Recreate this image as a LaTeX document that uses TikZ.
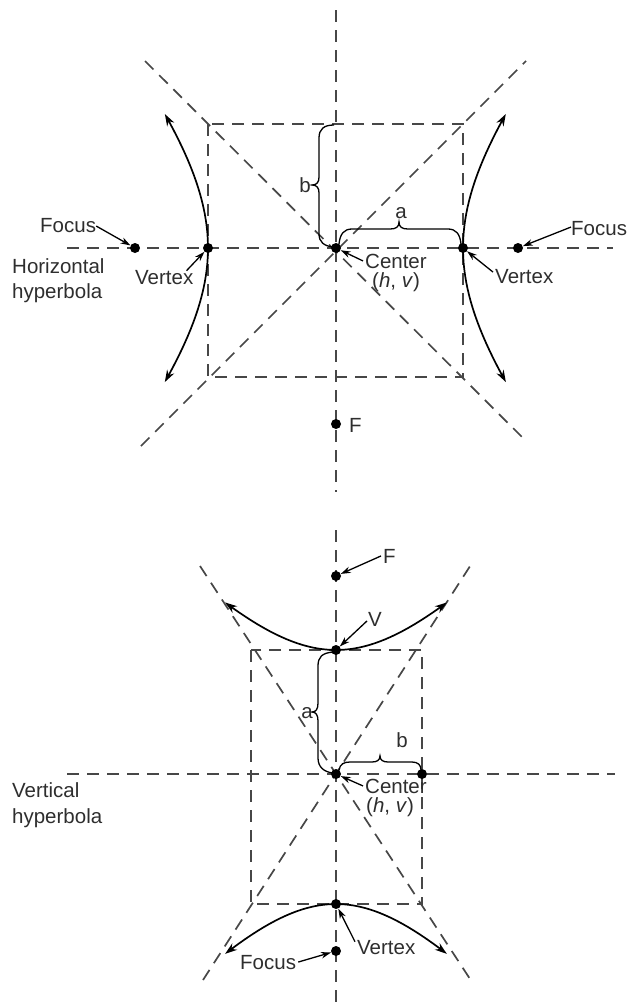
\documentclass[tikz,border=0pt]{standalone}
\usepackage{fontspec}
\setmainfont{Liberation Sans}
\usetikzlibrary{arrows.meta}
\begin{document}
\begin{tikzpicture}[x=1pt,y=-1pt,
  axis/.style={draw=black!72, line width=1.7pt, dash pattern=on 12pt off 8pt},
  curve/.style={draw=black, line width=1.7pt, {Stealth[length=12pt,width=8pt]}-{Stealth[length=12pt,width=8pt]}},
  dot/.style={circle, fill=black, inner sep=0pt, minimum size=10pt},
  lbl/.style={font=\fontsize{20.5}{24}\selectfont, text=black!82, inner sep=0pt},
  ptr/.style={draw=black, line width=1.3pt, -{Stealth[length=10pt,width=6.5pt]}},
  brace/.style={draw=black, line width=1.3pt}]
\useasboundingbox (0,0) rectangle (628,1007);

% ---------- Horizontal hyperbola ----------
\draw[axis] (336,10) -- (336,492);
\draw[axis] (67,248) -- (613,248);
\draw[axis] (208,124) rectangle (463,377);
\draw[axis] (145,61) -- (526,441);
\draw[axis] (141,446) -- (526,61);

\draw[curve] plot[domain=-0.8:0.8, samples=40, variable=\t] ({336+127*cosh(\t)}, {248-151*sinh(\t)});
\draw[curve] plot[domain=-0.8:0.8, samples=40, variable=\t] ({336-128*cosh(\t)}, {248-151*sinh(\t)});

\node[dot] (F1L) at (135,248) {};
\node[dot] (V1L) at (208,248) {};
\node[dot] (Cn1) at (336,248) {};
\node[dot] (V1R) at (463,248) {};
\node[dot] (F1R) at (518,248) {};
\node[dot] (F1) at (336,424) {};

% braces
\draw[brace] (334,125) .. controls (324,125) and (319,129) .. (319,138) -- (319,177)
  .. controls (319,182) and (317,185) .. (312,185)
  .. controls (317,185) and (319,188) .. (319,193) -- (319,234)
  .. controls (319,242) and (324,246) .. (333,247);
\node[lbl] (tb1) at (305,185) {b};
\draw[brace] (339,244) .. controls (340,234) and (344,229) .. (352,229) -- (390,229)
  .. controls (396,229) and (399,227) .. (399,222)
  .. controls (399,227) and (402,229) .. (408,229) -- (448,229)
  .. controls (456,229) and (460,234) .. (461,244);
\node[lbl] (ta1) at (401,213) {a};

% labels
\node[lbl, anchor=base west] (tFL) at (40,232) {Focus};
\draw[ptr] ([yshift=-1pt]tFL.east) -- (F1L);
\node[lbl, anchor=base west] (thz1) at (12,273) {Horizontal};
\node[lbl, anchor=base west] (thz2) at (12,298) {hyperbola};
\node[lbl, anchor=base west] (tVL) at (135,284) {Vertex};
\draw[ptr] ([xshift=-7pt,yshift=-1pt]tVL.north east) -- (V1L);
\node[lbl, anchor=base west] (tC1) at (365,268) {Center};
\node[lbl, anchor=base west] (tHV1) at (372,287) {(\textit{h}, \textit{v})};
\draw[ptr] ([xshift=-2pt]tC1.west) -- (Cn1);
\node[lbl, anchor=base west] (tVR) at (495,283) {Vertex};
\draw[ptr] ([xshift=-2pt,yshift=4pt]tVR.west) -- (V1R);
\node[lbl, anchor=base west] (tFR) at (571,235) {Focus};
\draw[ptr] ([yshift=1pt]tFR.west) -- (F1R);
\node[lbl, anchor=base west] (tF1) at (349,432) {F};

% ---------- Vertical hyperbola ----------
\draw[axis] (336,530) -- (336,1007);
\draw[axis] (67,774) -- (615,774);
\draw[axis] (251,650) rectangle (422,904);
\draw[axis] (203,980) -- (474,560);
\draw[axis] (200,566) -- (472,982);

\draw[curve] plot[domain=-0.85:0.85, samples=40, variable=\t] ({336+116*sinh(\t)}, {774-124*cosh(\t)});
\draw[curve] plot[domain=-0.85:0.85, samples=40, variable=\t] ({336+116*sinh(\t)}, {774+130*cosh(\t)});

\node[dot] (F2) at (336,576) {};
\node[dot] (V2T) at (336,650) {};
\node[dot] (Cn2) at (336,774) {};
\node[dot] (B2) at (422,774) {};
\node[dot] (V2B) at (336,904) {};
\node[dot] (F2B) at (336,951) {};

% braces
\draw[brace] (333,652) .. controls (322,653) and (318,657) .. (318,666) -- (318,703)
  .. controls (318,709) and (316,712) .. (312,712)
  .. controls (316,712) and (318,715) .. (318,721) -- (318,758)
  .. controls (318,767) and (324,772) .. (333,773);
\node[lbl] (ta2) at (307,713) {a};
\draw[brace] (339,770) .. controls (340,764) and (344,762) .. (350,762) -- (372,762)
  .. controls (377,762) and (380,760) .. (380,756)
  .. controls (380,760) and (383,762) .. (388,762) -- (412,762)
  .. controls (418,762) and (421,765) .. (421,770);
\node[lbl] (tb2) at (402,740) {b};

% labels
\node[lbl, anchor=base west] (tF2) at (383,563) {F};
\draw[ptr] ([xshift=-2pt]tF2.west) -- (F2);
\node[lbl, anchor=base west] (tV2) at (368,626) {V};
\draw[ptr] ([xshift=-1pt,yshift=-2pt]tV2.west) -- (V2T);
\node[lbl, anchor=base west] (tC2) at (365,793) {Center};
\node[lbl, anchor=base west] (tHV2) at (366,812) {(\textit{h}, \textit{v})};
\draw[ptr] ([xshift=-2pt]tC2.west) -- (Cn2);
\node[lbl, anchor=base west] (tvt1) at (12,797) {Vertical};
\node[lbl, anchor=base west] (tvt2) at (12,823) {hyperbola};
\node[lbl, anchor=base west] (tVB) at (357,954) {Vertex};
\draw[ptr] ([xshift=-2pt,yshift=-2pt]tVB.north west) -- (V2B);
\node[lbl, anchor=base west] (tFB) at (240,969) {Focus};
\draw[ptr] ([xshift=2pt]tFB.east) -- (F2B);
\end{tikzpicture}
\end{document}
